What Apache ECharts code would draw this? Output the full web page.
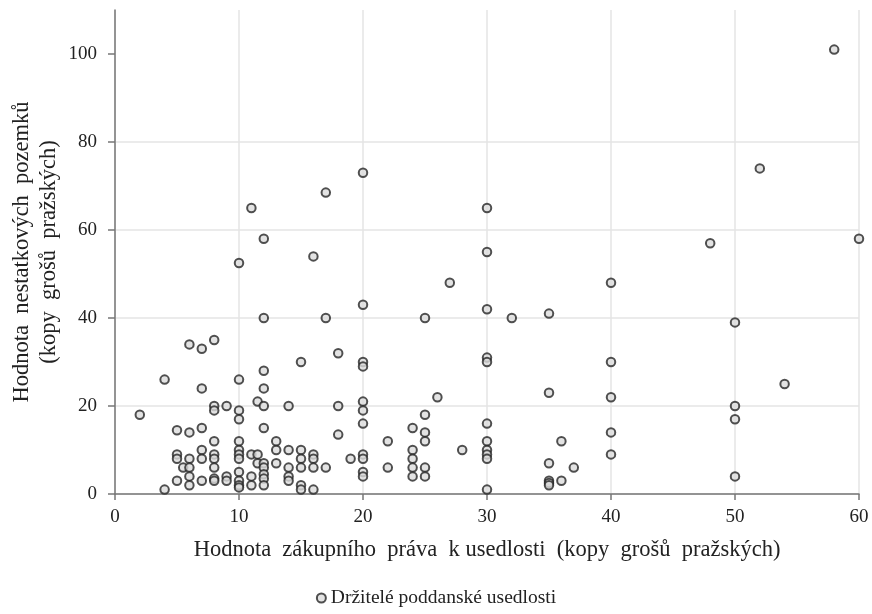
<!DOCTYPE html>
<html>
<head>
<meta charset="utf-8">
<script src="https://cdn.jsdelivr.net/npm/echarts@6/dist/echarts.min.js"></script>
<style>
  html, body { margin: 0; padding: 0; background: #fff; }
  #chart { width: 872px; height: 614px; }
</style>
</head>
<body>
<div id="chart"></div>
<script>
// x: hodnota zákupního práva, y: hodnota nestatkových pozemků
const xValues = [
  2, 4, 4,
  5, 5, 5, 5.5, 5,
  6, 6, 6, 6, 6, 6,
  7, 7, 7, 7, 7, 7,
  8, 8, 8, 8, 8, 8, 8, 8, 8,
  9, 9, 9,
  10, 10, 10, 10, 10, 10, 10, 10, 10, 10, 10, 10,
  11, 11, 11, 11,
  11.5, 11.5, 11.5,
  12, 12, 12, 12, 12, 12, 12, 12, 12, 12, 12,
  13, 13, 13,
  14, 14, 14, 14, 14,
  15, 15, 15, 15, 15, 15,
  16, 16, 16, 16, 16,
  17, 17, 17,
  18, 18, 18,
  19,
  20, 20, 20, 20, 20, 20, 20, 20, 20, 20, 20,
  22, 22,
  24, 24, 24, 24, 24,
  25, 25, 25, 25, 25, 25,
  26, 27, 28,
  30, 30, 30, 30, 30, 30, 30, 30, 30, 30, 30,
  32,
  35, 35, 35, 35, 35, 35,
  36, 36, 37,
  40, 40, 40, 40, 40,
  48,
  50, 50, 50, 50,
  52, 54, 58, 60
];
const yValues = [
  18, 26, 1,
  14.5, 9, 8, 6, 3,
  34, 14, 8, 6, 4, 2,
  33, 24, 15, 10, 8, 3,
  35, 20, 19, 12, 9, 8, 6, 3.5, 3,
  20, 4, 3,
  52.5, 26, 19, 17, 12, 10, 9, 8, 5, 3, 2, 1.5,
  65, 9, 4, 2,
  21, 9, 7,
  58, 40, 28, 24, 20, 15, 7, 6, 4.5, 3.5, 2,
  12, 10, 7,
  20, 10, 6, 4, 3,
  30, 10, 8, 6, 2, 1,
  54, 9, 8, 6, 1,
  68.5, 40, 6,
  32, 20, 13.5,
  8,
  73, 43, 30, 29, 21, 19, 16, 9, 8, 5, 4,
  12, 6,
  15, 10, 8, 6, 4,
  40, 18, 14, 12, 6, 4,
  22, 48, 10,
  65, 55, 42, 31, 30, 16, 12, 10, 9, 8, 1,
  40,
  41, 23, 7, 3, 2.5, 2,
  12, 3, 6,
  48, 30, 22, 14, 9,
  57,
  39, 20, 17, 4,
  74, 25, 101, 58
];
const yTicks = [0, 20, 40, 60, 80, 100];
const seriesName = 'Držitelé poddanské usedlosti';
const xTitle = 'Hodnota  zákupního  práva  k usedlosti  (kopy  grošů  pražských)';
const yTitle = 'Hodnota  nestatkových  pozemků\n(kopy  grošů  pražských)';

const points = xValues.map((x, i) => [x, yValues[i]]);
const font = '"Liberation Serif", "Times New Roman", serif';

const chart = echarts.init(document.getElementById('chart'));
chart.setOption({
  animation: false,
  textStyle: { fontFamily: font },
  grid: { left: 115, right: 13, top: 10, bottom: 120, outerBoundsMode: 'none' },
  legend: {
    bottom: 1,
    left: 'center',
    icon: 'circle',
    itemWidth: 9,
    itemHeight: 9,
    itemGap: 4,
    textStyle: { fontFamily: font, fontSize: 19.5, color: '#222' },
    data: [seriesName]
  },
  xAxis: {
    type: 'value',
    min: 0,
    max: 60,
    interval: 10,
    name: xTitle,
    nameLocation: 'middle',
    nameGap: 45,
    nameMoveOverlap: false,
    nameTextStyle: { fontFamily: font, fontSize: 22.5, color: '#222' },
    axisLine: { show: true, lineStyle: { color: '#777', width: 1.5 } },
    axisTick: { show: true, length: 6, lineStyle: { color: '#777', width: 1.5 } },
    axisLabel: { margin: 14, fontFamily: font, fontSize: 19, color: '#222' },
    splitLine: { show: true, lineStyle: { color: '#e4e4e4', width: 1.5 } }
  },
  yAxis: {
    type: 'value',
    min: 0,
    max: 110,
    interval: 20,
    name: yTitle,
    nameLocation: 'middle',
    nameGap: 52,
    nameMoveOverlap: false,
    nameTextStyle: { fontFamily: font, fontSize: 22.5, color: '#222', lineHeight: 27 },
    axisLine: { show: true, lineStyle: { color: '#777', width: 1.5 } },
    axisTick: { show: true, length: 7, customValues: yTicks, lineStyle: { color: '#777', width: 1.5 } },
    axisLabel: { margin: 18, fontFamily: font, fontSize: 19, color: '#222', customValues: yTicks },
    splitLine: { show: true, showMaxLine: false, lineStyle: { color: '#e4e4e4', width: 1.5 } }
  },
  series: [{
    name: seriesName,
    type: 'scatter',
    data: points,
    symbol: 'circle',
    symbolSize: 8.5,
    itemStyle: { color: '#dcdcdc', borderColor: '#262626', borderWidth: 2 }
  }]
});
</script>
</body>
</html>
